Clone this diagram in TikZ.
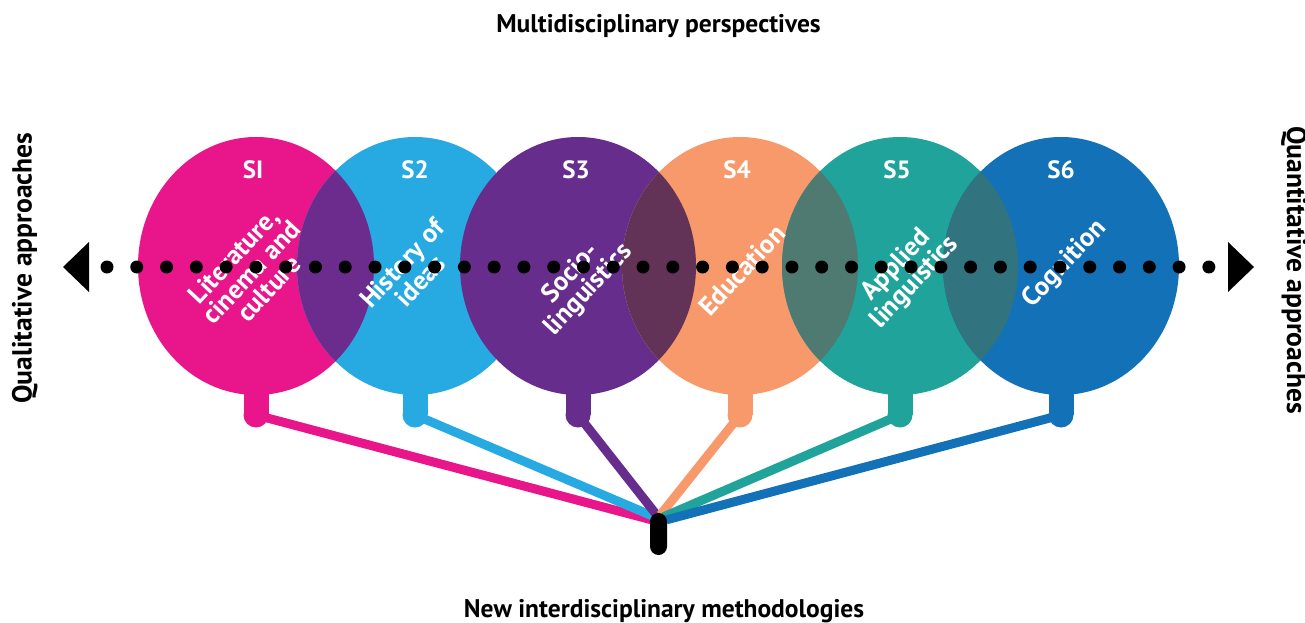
\documentclass[tikz,border=0pt]{standalone}
\usepackage{fontspec}
\setmainfont{PT Sans}
\usetikzlibrary{shapes.geometric,calc}
\definecolor{pinkc}{HTML}{E8168A}
\definecolor{bluec}{HTML}{27AAE1}
\definecolor{purplec}{HTML}{662D8C}
\definecolor{orangec}{HTML}{F7996B}
\definecolor{tealc}{HTML}{20A39A}
\definecolor{dbluec}{HTML}{1371B8}
\definecolor{lensA}{HTML}{6B2C8E}
\definecolor{lensC}{HTML}{633257}
\definecolor{lensD}{HTML}{4F7A72}
\definecolor{lensE}{HTML}{31737F}
\pgfdeclarelayer{bg}
\pgfsetlayers{bg,main}
\begin{document}
\begin{tikzpicture}[x=1pt,y=-1pt,
  bubble/.style={ellipse, minimum width=236pt, minimum height=258pt, inner sep=0pt, draw=none},
  bulb/.style={circle, minimum size=25pt, inner sep=0pt, draw=none},
  conn/.style={line width=9pt},
  slabel/.style={font=\bfseries\fontsize{25}{25}\selectfont, text=white, inner sep=0pt, anchor=base},
  topic/.style={font=\bfseries\fontsize{26.5}{24}\selectfont, text=white, align=center, inner sep=0pt, rotate=47},
  heading/.style={font=\bfseries\fontsize{25.5}{25}\selectfont, text=black, inner sep=0pt, anchor=base},
  side/.style={font=\bfseries\fontsize{27.6}{27}\selectfont, text=black, inner sep=0pt, anchor=base},
  hubstyle/.style={rectangle, rounded corners=8.5pt, minimum width=17pt, minimum height=42pt, inner sep=0pt, fill=black}
]
\useasboundingbox (0,0) rectangle (1305,623);

% bubbles and overlaps
\node[bubble, fill=pinkc] (e1) at (256,266) {};
\node[bubble, fill=bluec] (e2) at (415,266) {};
\begin{scope}
  \clip (256,266) ellipse [x radius=118, y radius=129];
  \fill[lensA] (415,266) ellipse [x radius=118, y radius=129];
\end{scope}
\node[bubble, fill=purplec] (e3) at (578,266) {};
\node[bubble, fill=orangec] (e4) at (740,266) {};
\begin{scope}
  \clip (578,266) ellipse [x radius=118, y radius=129];
  \fill[lensC] (740,266) ellipse [x radius=118, y radius=129];
\end{scope}
\node[bubble, fill=tealc] (e5) at (900,266) {};
\begin{scope}
  \clip (740,266) ellipse [x radius=118, y radius=129];
  \fill[lensD] (900,266) ellipse [x radius=118, y radius=129];
\end{scope}
\node[bubble, fill=dbluec] (e6) at (1061,266) {};
\begin{scope}
  \clip (900,266) ellipse [x radius=118, y radius=129];
  \fill[lensE] (1061,266) ellipse [x radius=118, y radius=129];
\end{scope}

% stems
\foreach \cx/\col/\n in {256/pinkc/1, 415/bluec/2, 578/purplec/3, 740/orangec/4, 900/tealc/5, 1061/dbluec/6}{
  \fill[\col] (\cx-12.5,385) rectangle (\cx+12.5,415);
  \node[bulb, fill=\col] (b\n) at (\cx,415) {};
}

% hub
\node[hubstyle] (hub) at (658.5,534) {};

% connectors (behind)
\begin{pgfonlayer}{bg}
  \draw[conn, pinkc]   (b1.center) -- ($(hub.north)+(-7,7)$);
  \draw[conn, bluec]   (b2.center) -- ($(hub.north)+(-4,4)$);
  \draw[conn, purplec] (b3.center) -- ($(hub.north)+(-2,2)$);
  \draw[conn, orangec] (b4.center) -- ($(hub.north)+(2,2)$);
  \draw[conn, tealc]   (b5.center) -- ($(hub.north)+(5,4)$);
  \draw[conn, dbluec]  (b6.center) -- ($(hub.north)+(8,7)$);
\end{pgfonlayer}

% S labels
\node[slabel] (s1) at (253,178) {SI};
\node[slabel] (s2) at (415,178) {S2};
\node[slabel] (s3) at (576,178) {S3};
\node[slabel] (s4) at (737,178) {S4};
\node[slabel] (s5) at (897,178) {S5};
\node[slabel] (s6) at (1061,178) {S6};

% topic labels
\node[topic] (t1) at (251,272) {Literature,\\cinema and\\culture};
\node[topic] (t2) at (411,272) {History of\\ideas};
\node[topic] (t3) at (580,282) {Socio-\\linguistics};
\node[topic] (t4) at (742,270) {Education};
\node[topic] (t5) at (906,274) {Applied\\linguistics};
\node[topic] (t6) at (1065,264) {Cognition};

% dotted axis with triangles
\foreach \i in {0,...,37}{
  \fill ({107+\i*29.78},267) circle[radius=6.5pt];
}
\coordinate (la) at (63,267);
\coordinate (ra) at (1254,267);
\fill (la) -- ++(26,-25) -- ++(0,50) -- cycle;
\fill (ra) -- ++(-26,-25) -- ++(0,50) -- cycle;

% texts
\node[heading] (top) at (658.5,33) {Multidisciplinary perspectives};
\node[heading] (bot) at (664,617) {New interdisciplinary methodologies};
\node[side, rotate=90] (ql) at (31.5,268) {Qualitative approaches};
\node[side, rotate=-90] (qr) at (1287,270) {Quantitative approaches};
\end{tikzpicture}
\end{document}
